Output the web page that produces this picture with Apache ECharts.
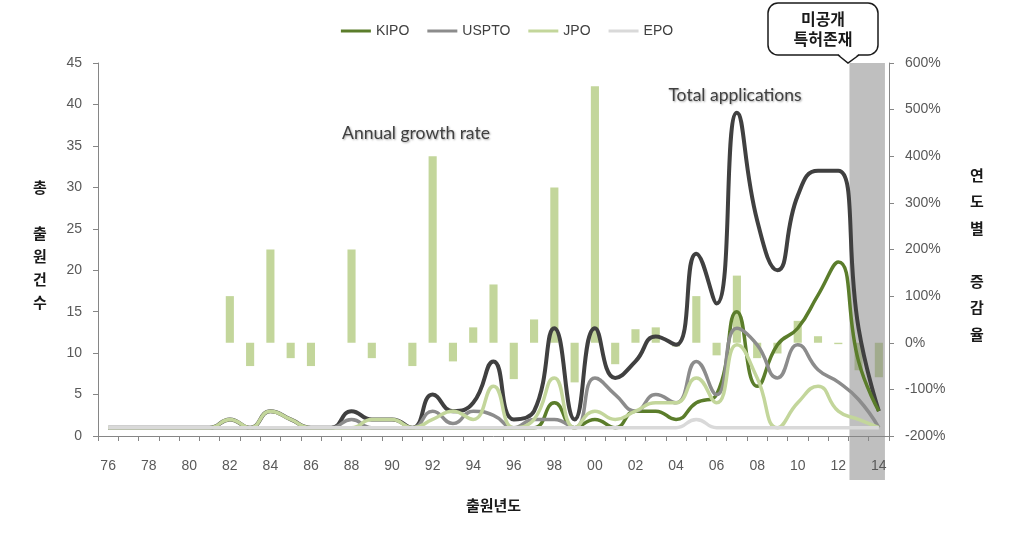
<!DOCTYPE html>
<html>
<head>
<meta charset="utf-8">
<script src="https://cdn.jsdelivr.net/npm/echarts@6/dist/echarts.min.js"></script>
<style>
html,body{margin:0;padding:0;background:#fff;}
#chart{width:1014px;height:542px;}
</style>
</head>
<body>
<div id="chart"></div>
<script>
// ---- data ----
const years = ['76','77','78','79','80','81','82','83','84','85','86','87','88','89','90','91','92','93','94','95','96','97','98','99','00','01','02','03','04','05','06','07','08','09','10','11','12','13','14'];
const totalApps = [1,1,1,1,1,1,2,1,3,2,1,1,3,2,2,1,5,3,4,9,2,3,13,2,13,7,9,12,11,22,16,39,26,20,29,32,32,13,3];
const kipo  = [1,1,1,1,1,1,1,1,1,1,1,1,1,1,1,1,1,1,1,1,1,1,4,1,2,1,3,3,2,4,5,15,6,11,13,17,21,9,3];
const uspto = [1,1,1,1,1,1,1,1,1,1,1,1,2,1,1,1,3,1.5,3,2.5,1,2,2,1,7,5,3,5,4,9,5,13,11,7,11,8,6.5,4.4,1];
const jpo   = [1,1,1,1,1,1,2,1,3,2,1,1,1,2,2,1,2,3,2,6,1,2,7,1,3,2,3,4,4,7,4,11,7,1,4,6,3,2,1];
const epo   = [1,1,1,1,1,1,1,1,1,1,1,1,1,1,1,1,1,1,1,1,1,1,1,1,1,1,1,1,1,2,1,1,1,1,1,1,1,1,1];
const growth = [0,0,0,0,0,0,100,-50,200,-33,-50,0,200,-33,0,-50,400,-40,33,125,-78,50,333,-85,550,-46,29,33,-8,100,-27,144,-33,-23,47,14,-3,-59,-74];
const leftTicks = {min:0, max:45, interval:5};
const rightTicks = {min:-200, max:600, interval:100};

const axisColor = '#868686';
const labelColor = '#595959';
const numFont = 'Liberation Sans';
const krFont = '"Noto Sans CJK KR"';

const chart = echarts.init(document.getElementById('chart'), null, {renderer:'canvas'});

const lineSeries = (name, data, color, width, z) => ({
  name, type:'line', data, yAxisIndex:0, smooth:0.5, symbol:'none',
  lineStyle:{color, width}, itemStyle:{color}, z
});

const option = {
  animation:false,
  backgroundColor:'#fff',
  grid:{left:98, right:125, top:63, bottom:106},
  legend:{
    data:['KIPO','USPTO','JPO','EPO'],
    top:19, left:'center', icon:'rect', itemWidth:30, itemHeight:3, itemGap:18,
    textStyle:{color:'#404040', fontSize:14, fontFamily:numFont}
  },
  xAxis:{
    type:'category', data:years, boundaryGap:true, z:4,
    axisLine:{lineStyle:{color:axisColor, width:1}},
    axisTick:{show:true, interval:0, length:5, lineStyle:{color:axisColor}},
    axisLabel:{interval:1, color:labelColor, fontSize:14, fontFamily:numFont, margin:23},
    name:'출원년도', nameLocation:'middle', nameGap:62,
    nameTextStyle:{color:'#1a1a1a', fontSize:15, fontWeight:'bold', fontFamily:krFont}
  },
  yAxis:[
    {type:'value', min:leftTicks.min, max:leftTicks.max, interval:leftTicks.interval,
     splitLine:{show:false},
     axisLine:{show:true, lineStyle:{color:axisColor}},
     axisTick:{show:true, length:5, lineStyle:{color:axisColor}},
     axisLabel:{color:labelColor, fontSize:14, fontFamily:numFont, margin:16}},
    {type:'value', min:rightTicks.min, max:rightTicks.max, interval:rightTicks.interval, position:'right',
     splitLine:{show:false},
     axisLine:{show:true, lineStyle:{color:axisColor}},
     axisTick:{show:true, length:5, lineStyle:{color:axisColor}},
     axisLabel:{color:labelColor, fontSize:14, fontFamily:numFont, margin:16, formatter:v=>v+'%'}}
  ],
  series:[
    {name:'Annual growth rate', type:'bar', yAxisIndex:1, data:growth, barWidth:'40%',
     itemStyle:{color:'#c3d69b'}, z:1},
    lineSeries('Total applications', totalApps, '#404040', 4, 3),
    lineSeries('KIPO', kipo, '#5b7d2b', 3.5, 3),
    lineSeries('USPTO', uspto, '#8c8c8c', 3.5, 3),
    lineSeries('JPO', jpo, '#c3d69b', 3.5, 3),
    lineSeries('EPO', epo, '#d9d9d9', 3.5, 3)
  ]
};
chart.setOption(option);

// annotation geometry from the axes
const c13 = chart.convertToPixel({xAxisIndex:0}, '13');
const c14 = chart.convertToPixel({xAxisIndex:0}, '14');
const band = c14 - c13;
const yTop = chart.convertToPixel({yAxisIndex:0}, leftTicks.max);
const shadeX0 = c13 - band*0.45;
const shadeX1 = c14 + band*0.3;

const shadowTxt = {textShadowColor:'rgba(0,0,0,0.35)', textShadowBlur:2, textShadowOffsetX:1, textShadowOffsetY:1};

chart.setOption({
  graphic:[
    {type:'rect', z:2, shape:{x:shadeX0, y:yTop, width:shadeX1-shadeX0, height:480-yTop},
     style:{fill:'rgba(128,128,128,0.5)'}},
    {type:'rect', z:10, shape:{x:768, y:3, width:110, height:52, r:10},
     style:{fill:'#fff', stroke:'#1a1a1a', lineWidth:1.5}},
    {type:'polygon', z:11, shape:{points:[[838,53.5],[848,63],[859,53.5]]},
     style:{fill:'#fff', stroke:null}},
    {type:'polyline', z:12, shape:{points:[[838,55],[848,63],[859,55]]},
     style:{fill:null, stroke:'#1a1a1a', lineWidth:1.5}},
    {type:'text', z:13, style:{text:'미공개\n특허존재', x:823, y:29, textAlign:'center', textVerticalAlign:'middle',
      fill:'#1a1a1a', font:'bold 16px "Noto Sans CJK KR"', lineHeight:20}},
    {type:'text', z:13, style:Object.assign({text:'Annual growth rate', x:416, y:133, textAlign:'center', textVerticalAlign:'middle',
      fill:'#404040', font:'17.5px Lato'}, shadowTxt)},
    {type:'text', z:13, style:Object.assign({text:'Total applications', x:735, y:95, textAlign:'center', textVerticalAlign:'middle',
      fill:'#404040', font:'17.5px Lato'}, shadowTxt)},
    {type:'text', z:13, style:{text:'총\n\n출\n원\n건\n수', x:40, y:176, textAlign:'center', textVerticalAlign:'top',
      fill:'#1a1a1a', font:'bold 15px "Noto Sans CJK KR"', lineHeight:23}},
    {type:'text', z:13, style:{text:'연\n도\n별\n\n증\n감\n율', x:977, y:162, textAlign:'center', textVerticalAlign:'top',
      fill:'#1a1a1a', font:'bold 15px "Noto Sans CJK KR"', lineHeight:26.5}}
  ]
});
</script>
</body>
</html>
